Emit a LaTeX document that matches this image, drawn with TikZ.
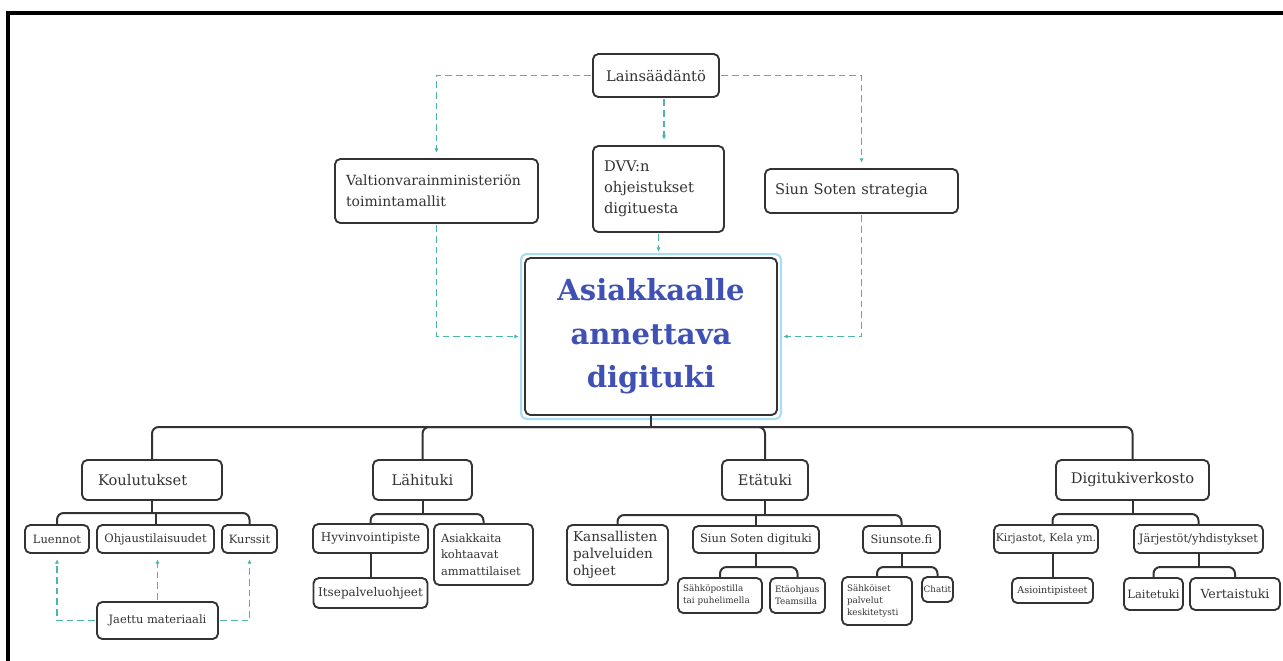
\documentclass[tikz,border=0pt]{standalone}
\usepackage{fontspec}
\setmainfont{DejaVu Serif}
\usetikzlibrary{arrows.meta}

\definecolor{boxline}{HTML}{333333}
\definecolor{dashteal}{HTML}{4DB6AC}
\definecolor{titleblue}{HTML}{3F51B5}
\definecolor{glowblue}{HTML}{A9DDF3}

\tikzset{
  box/.style={draw=boxline, line width=1.4pt, rounded corners=4pt, fill=white, text=boxline, inner sep=0pt, align=center},
  sz/.style 2 args={minimum width=#1*0.75pt, minimum height=#2*0.75pt},
  lsz/.style n args={3}{sz={#1}{#2}, text width=(#1-2*#3)*0.75pt, align=left},
  mid/.style={box, font=\fontsize{11}{15.75}\selectfont},
  small/.style={box, font=\fontsize{8.6}{12.5}\selectfont},
  tiny/.style={box, font=\fontsize{6.6}{9}\selectfont},
  title/.style={box, text=titleblue, font=\fontsize{21.8}{32.5}\selectfont\bfseries},
  glow/.style={draw=glowblue, line width=1.6pt, rounded corners=4pt},
  tree/.style={draw=boxline, line width=1.5pt, rounded corners=5pt},
  link/.style={draw=dashteal, line width=1.05pt, dash pattern=on 5pt off 3pt,
    -{Latex[length=3.2pt,width=3.2pt]}, shorten >=4pt, shorten <=1pt},
  frame/.style={line width=2.3pt}
}

\begin{document}
\begin{tikzpicture}[x=0.75pt, y=-0.75pt]
  \useasboundingbox (0,0) rectangle (1283,661);
  \draw[frame] (8,661) -- (8,13) -- (1283,13);

  % top row
  \node[mid, sz={126}{43}] (laki) at (656,75.5) {Lainsäädäntö};
  \node[mid, lsz={203}{64}{11}, font=\fontsize{10.5}{15.75}\selectfont] (vm) at (436.5,191) {Valtionvarainministeriön\\toimintamallit};
  \node[mid, lsz={131}{86}{11}] (dvv) at (658.5,189) {DVV:n\\ohjeistukset\\digituesta};
  \node[mid, lsz={193}{44}{10}] (strat) at (861.5,191) {Siun Soten strategia};
  \node[title, sz={252}{157}] (main) at (651,336.5) {Asiakkaalle\\annettava\\digituki};
  \draw[glow] ([shift={(-3,-3)}]main.north west) rectangle ([shift={(3,3)}]main.south east);

  % second row
  \node[mid, lsz={140}{40}{16}] (koul) at (152,480) {Koulutukset};
  \node[mid, sz={99}{40}] (lahi) at (422.5,480) {Lähituki};
  \node[mid, sz={86}{40}] (eta) at (765,480) {Etätuki};
  \node[mid, sz={153}{40}] (verkko) at (1132.5,480) {Digitukiverkosto};

  % leaves
  \node[small, sz={64}{28}] (luennot) at (57,539) {Luennot};
  \node[small, sz={117}{28}] (ohjaus) at (155.5,539) {Ohjaustilaisuudet};
  \node[small, sz={55}{28}] (kurssit) at (249.5,539) {Kurssit};
  \node[small, sz={121}{37}] (materiaali) at (157.5,620.5) {Jaettu materiaali};

  \node[small, sz={115}{29}, font=\fontsize{9}{12.5}\selectfont] (hyvin) at (370.5,538.5) {Hyvinvointipiste};
  \node[small, lsz={99}{61}{7}] (ammatti) at (483.5,554.5) {Asiakkaita\\kohtaavat\\ammattilaiset};
  \node[small, sz={114}{30}, font=\fontsize{9}{12.5}\selectfont] (itse) at (370.5,593) {Itsepalveluohjeet};

  \node[small, lsz={101}{60}{6}, font=\fontsize{10.2}{12.8}\selectfont] (kans) at (617.5,555) {Kansallisten\\palveluiden\\ohjeet};
  \node[small, sz={126}{27}] (siundigi) at (756,539.5) {Siun Soten digituki};
  \node[small, sz={77}{27}] (siunsote) at (901.5,539.5) {Siunsote.fi};
  \node[tiny, lsz={84}{35}{5}] (posti) at (720,595.5) {Sähköpostilla\\tai puhelimella};
  \node[tiny, lsz={55}{35}{5}] (teams) at (797.5,595.5) {Etäohjaus\\Teamsilla};
  \node[tiny, lsz={70}{48}{5}] (sahkoiset) at (877,601) {Sähköiset\\palvelut\\keskitetysti};
  \node[tiny, sz={31}{25}] (chatit) at (937.5,589.5) {Chatit};

  \node[small, sz={104}{28}, font=\fontsize{8}{12}\selectfont] (kirjastot) at (1046,539) {Kirjastot, Kela ym.};
  \node[small, sz={129}{28}] (jarjestot) at (1198.5,539) {Järjestöt/yhdistykset};
  \node[small, sz={81}{25}, font=\fontsize{7.2}{9}\selectfont] (asiointi) at (1052.5,590.5) {Asiointipisteet};
  \node[small, sz={59}{32}] (laite) at (1153.5,594) {Laitetuki};
  \node[small, sz={90}{32}, font=\fontsize{9.4}{12.5}\selectfont] (vertais) at (1235,594) {Vertaistuki};

  % tree lines
  \coordinate (bus) at (651,427);
  \draw[tree] (main.south) -- (bus);
  \foreach \n in {koul,lahi,eta,verkko}
    \draw[tree] (bus) -| (\n.north);

  \foreach \p/\y/\a/\b in {koul/513/luennot/kurssit, lahi/514/hyvin/ammatti, eta/515/kans/siunsote,
      siundigi/567/posti/teams, siunsote/567/sahkoiset/chatit, jarjestot/567/laite/vertais}
  {
    \draw[tree] (\p.south) -- (\p.south |- 0,\y);
    \draw[tree] (\a.north) |- (\p.south |- 0,\y) -| (\b.north);
  }
  \draw[tree] (ohjaus.north |- 0,513) -- (ohjaus.north);
  \draw[tree] (siundigi.north |- 0,515) -- (siundigi.north);
  \draw[tree] (hyvin.south) -- (itse.north);
  \draw[tree] (verkko.south) -- (verkko.south |- 0,514);
  \draw[tree] (kirjastot.north -| asiointi) |- (verkko.south |- 0,514) -| (jarjestot.north);
  \draw[tree] (kirjastot.south -| asiointi) -- (asiointi.north);

  % dashed links
  \draw[link] (laki.west) -| (vm.north);
  \draw[link] (laki.east) -| (strat.north);
  \draw[link] ([xshift=6pt]laki.south) -- ([xshift=6pt]laki.south |- dvv.north);
  \draw[link] (vm.south) |- (main.west);
  \draw[link] (dvv.south) -- (dvv.south |- main.north);
  \draw[link] (strat.south) |- (main.east);
  \draw[link] (materiaali.west) -| (luennot.south);
  \draw[link] (materiaali.north) -- (materiaali.north |- ohjaus.south);
  \draw[link] (materiaali.east) -| (kurssit.south);
\end{tikzpicture}
\end{document}
